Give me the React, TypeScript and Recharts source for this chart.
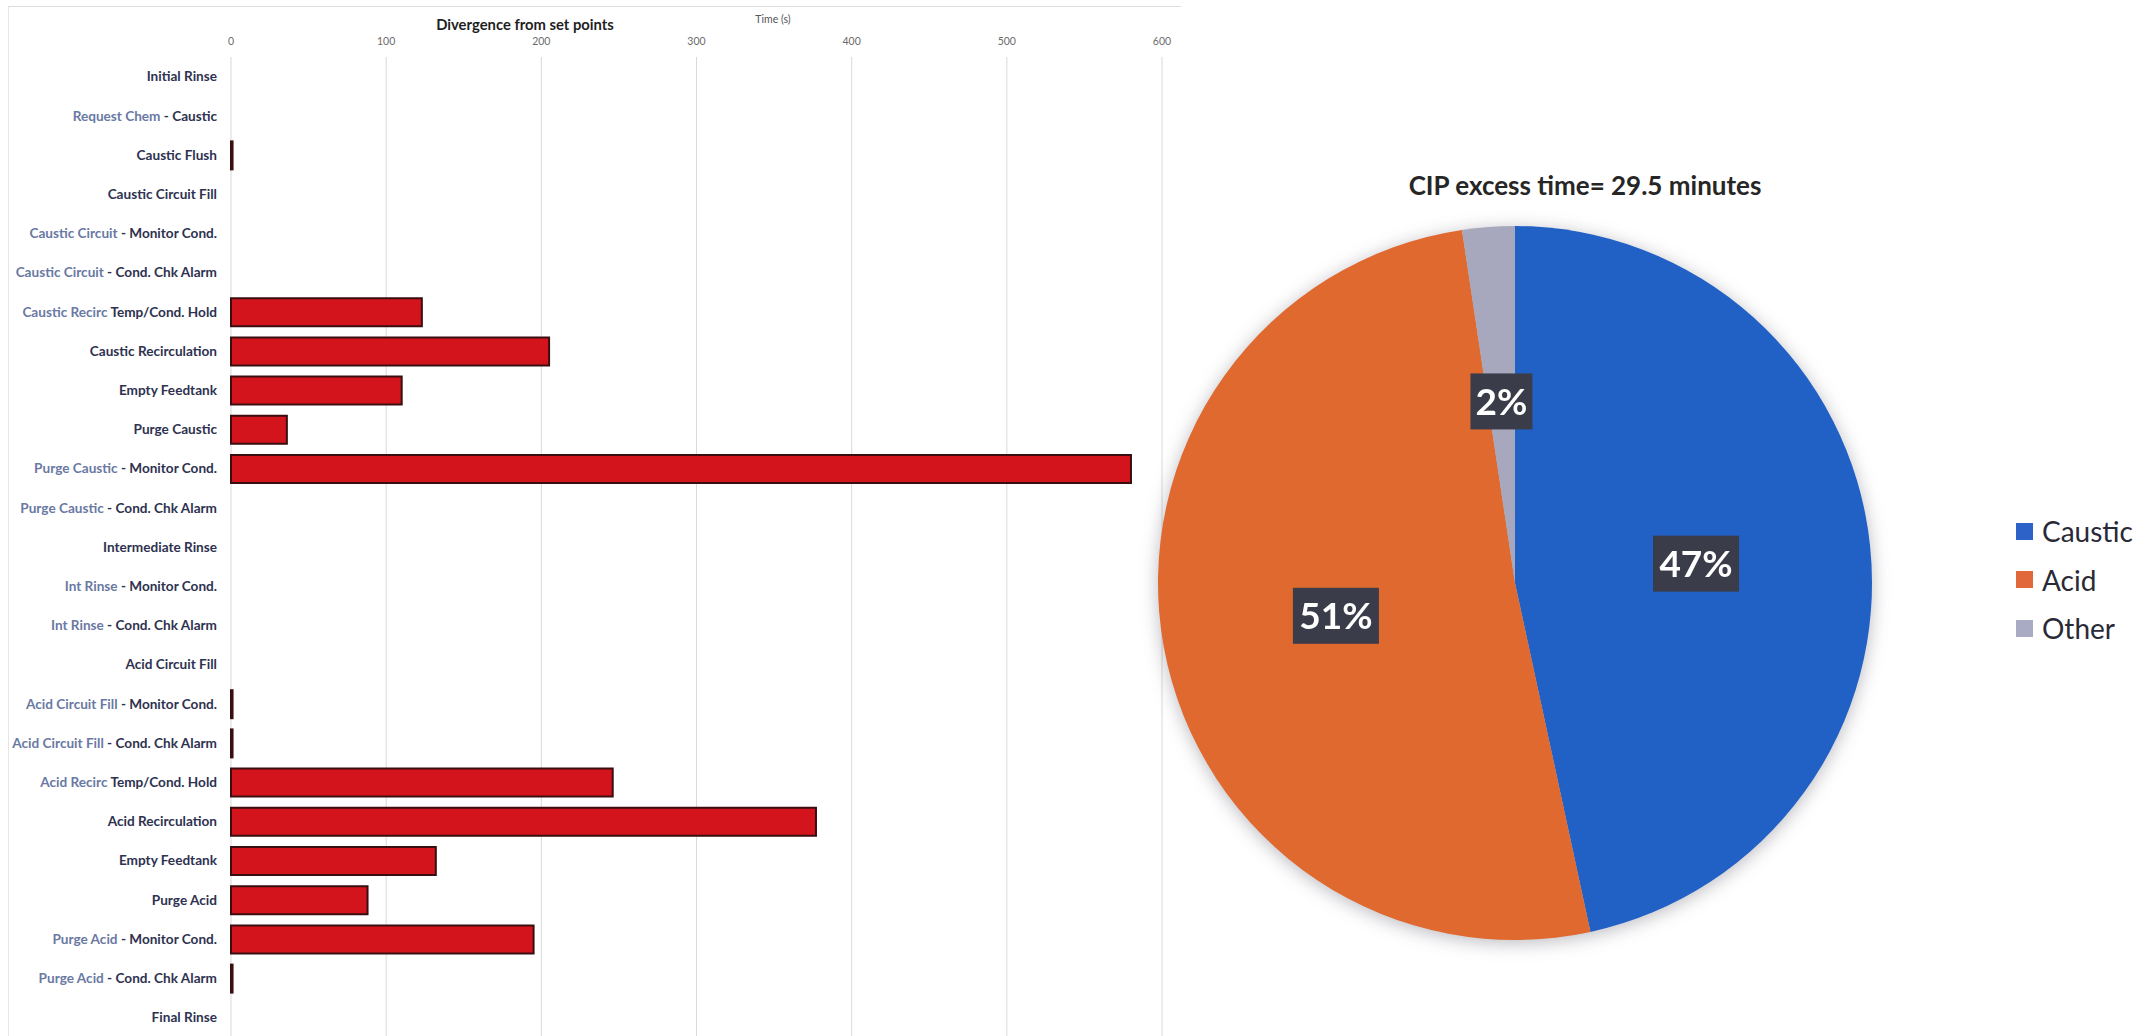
import React from 'react';
import { BarChart, Bar, XAxis, YAxis, CartesianGrid, PieChart, Pie, Cell } from 'recharts';

const categories = [
  'Initial Rinse',
  'Request Chem - Caustic',
  'Caustic Flush',
  'Caustic Circuit Fill',
  'Caustic Circuit - Monitor Cond.',
  'Caustic Circuit - Cond. Chk Alarm',
  'Caustic Recirc Temp/Cond. Hold',
  'Caustic Recirculation',
  'Empty Feedtank',
  'Purge Caustic',
  'Purge Caustic - Monitor Cond.',
  'Purge Caustic - Cond. Chk Alarm',
  'Intermediate Rinse',
  'Int Rinse - Monitor Cond.',
  'Int Rinse - Cond. Chk Alarm',
  'Acid Circuit Fill',
  'Acid Circuit Fill - Monitor Cond.',
  'Acid Circuit Fill - Cond. Chk Alarm',
  'Acid Recirc Temp/Cond. Hold',
  'Acid Recirculation',
  'Empty Feedtank',
  'Purge Acid',
  'Purge Acid - Monitor Cond.',
  'Purge Acid - Cond. Chk Alarm',
  'Final Rinse',
];

// part of each label drawn in the lighter slate colour
const categoryLightPrefixes = [
  '', 'Request Chem', '', '', 'Caustic Circuit', 'Caustic Circuit', 'Caustic Recirc', '', '', '',
  'Purge Caustic', 'Purge Caustic', '', 'Int Rinse', 'Int Rinse', '', 'Acid Circuit Fill',
  'Acid Circuit Fill', 'Acid Recirc', '', '', '', 'Purge Acid', 'Purge Acid', '',
];

const divergenceSeconds = [
  0, 0, 1, 0, 0, 0, 123, 205, 110, 36, 580, 0, 0, 0, 0, 0, 1, 1, 246, 377, 132, 88, 195, 1, 0,
];

const timeTicks = [0, 100, 200, 300, 400, 500, 600];

const pieNames = ['Caustic', 'Acid', 'Other'];
const pieMinutes = [13.75, 15.05, 0.7];
const pieColors = ['#2160C4', '#E0692F', '#A7A8BE'];
const legendColors = ['#2D63C8', '#E0683A', '#A9AAC4'];

const barData = categories.map((name, i) => ({ key: i, name, value: divergenceSeconds[i] }));
const pieData = pieNames.map((name, i) => ({ name, value: pieMinutes[i] }));

const FONT = 'Lato, "Open Sans", sans-serif';

const CategoryTick = (props: any) => {
  const { x, y, payload } = props;
  const i = Number(payload.value);
  const full = categories[i];
  const pre = categoryLightPrefixes[i];
  const rest = full.slice(pre.length);
  return (
    <text x={x} y={y} dy="0.36em" textAnchor="end" fontFamily={FONT} fontWeight={700} fontSize={13.6}>
      {pre ? <tspan fill="#6a79a3">{pre}</tspan> : null}
      <tspan fill="#2e3250">{rest}</tspan>
    </text>
  );
};

const RAD = Math.PI / 180;
const renderPieLabel = (props: any) => {
  const { cx, cy, midAngle, outerRadius, percent } = props;
  const r = outerRadius * 0.51;
  const x = cx + r * Math.cos(-midAngle * RAD);
  const y = cy + r * Math.sin(-midAngle * RAD);
  const txt = `${Math.round(percent * 100)}%`;
  const w = txt.length * 24 + 14;
  const h = 56;
  return (
    <g>
      <rect x={x - w / 2} y={y - h / 2} width={w} height={h} fill="#3a3d49" />
      <text x={x} y={y} dy="0.36em" textAnchor="middle" fill="#ffffff" fontFamily={FONT} fontWeight={700} fontSize={37}>
        {txt}
      </text>
    </g>
  );
};

export default function App() {
  return (
    <div style={{ position: 'absolute', left: 0, top: 0, width: 2147, height: 1036, overflow: 'hidden', background: '#fff', fontFamily: FONT }}>
      <div style={{ position: 'absolute', left: 8, top: 6, width: 1172, height: 1100, borderTop: '1px solid #dedede', borderLeft: '1px solid #e6e6e6' }} />
      <div style={{ position: 'absolute', left: 0, top: 0 }}>
        <BarChart
          width={1180}
          height={1045}
          data={barData}
          layout="vertical"
          margin={{ top: 17, right: 18, bottom: 8, left: 0 }}
          barSize={28}
        >
          <CartesianGrid horizontal={false} stroke="#d9d9d9" />
          <XAxis
            type="number"
            orientation="top"
            domain={[0, 600]}
            ticks={timeTicks}
            height={40}
            tickSize={0}
            tickMargin={12}
            axisLine={false}
            tickLine={false}
            tick={{ fill: '#6b6b6b', fontSize: 10.5, fontFamily: FONT }}
          />
          <YAxis
            type="category"
            dataKey="key"
            width={231}
            interval={0}
            tickSize={0}
            tickMargin={14}
            axisLine={false}
            tickLine={false}
            tick={<CategoryTick />}
          />
          <Bar dataKey="value" fill="#D3141C" stroke="#3a0e10" strokeWidth={2} isAnimationActive={false} />
        </BarChart>
      </div>
      <div style={{ position: 'absolute', left: 325, top: 14, width: 400, textAlign: 'center', fontSize: 14.8, lineHeight: '20px', fontWeight: 700, color: '#1f1f1f' }}>
        Divergence from set points
      </div>
      <div style={{ position: 'absolute', left: 723, top: 12, width: 100, textAlign: 'center', fontSize: 10.5, lineHeight: '14px', color: '#555' }}>
        Time (s)
      </div>

      <div style={{ position: 'absolute', left: 1100, top: 0, filter: 'drop-shadow(0px 3px 9px rgba(60,60,80,0.35))' }}>
        <PieChart width={1047} height={1036}>
          <Pie
            data={pieData}
            dataKey="value"
            nameKey="name"
            cx={410}
            cy={578}
            outerRadius={357}
            startAngle={90}
            endAngle={-270}
            stroke="none"
            label={renderPieLabel}
            labelLine={false}
            isAnimationActive={false}
          >
            {pieData.map((d, i) => (
              <Cell key={d.name} fill={pieColors[i]} />
            ))}
          </Pie>
        </PieChart>
      </div>
      <div style={{ position: 'absolute', left: 1335, top: 170, width: 500, textAlign: 'center', fontSize: 26, lineHeight: '30px', fontWeight: 700, color: '#262626' }}>
        CIP excess time= 29.5 minutes
      </div>
      {pieNames.map((name, i) => (
        <div key={name} style={{ position: 'absolute', left: 2016, top: 531 + i * 48.5 - 20, height: 40, display: 'flex', alignItems: 'center', whiteSpace: 'nowrap' }}>
          <div style={{ width: 17, height: 17, background: legendColors[i], marginRight: 9 }} />
          <span style={{ fontSize: 28, color: '#2a2a36', lineHeight: '40px' }}>{name}</span>
        </div>
      ))}
    </div>
  );
}
